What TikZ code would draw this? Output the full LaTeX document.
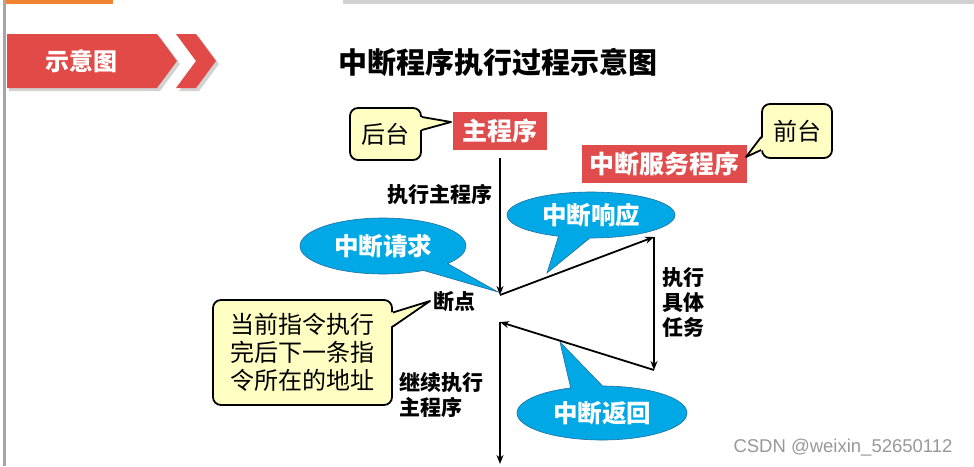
\documentclass[tikz,border=0pt]{standalone}
\usepackage{fontspec}
\newfontfamily\cjk{Noto Sans CJK SC}
\newfontfamily\wmfont{Liberation Sans}
\usetikzlibrary{shapes.geometric,shapes.callouts,arrows.meta}
\definecolor{bannerred}{HTML}{E24A48}
\definecolor{boxred}{HTML}{E04B4B}
\definecolor{notey}{HTML}{FFFFC4}
\definecolor{bubblue}{HTML}{00A9E6}
\definecolor{bubline}{HTML}{1F6F9F}
\definecolor{topor}{HTML}{F08332}
\tikzset{
  redbox/.style={fill=boxred, text=white, inner sep=0pt, font=\cjk\bfseries\fontsize{25}{28}\selectfont},
  notebox/.style={fill=notey, draw=black, line width=1.8pt, rounded corners=8pt, inner sep=0pt},
  notetext/.style={font=\cjk\fontsize{24}{28}\selectfont, inner sep=0pt},
  bubble/.style={ellipse callout, fill=bubblue, draw=bubline, line width=0.6pt, text=white, inner sep=0pt,
    callout pointer arc=22, font=\cjk\bfseries\fontsize{24.5}{28}\selectfont},
  lbl/.style={font=\cjk\bfseries\fontsize{21}{25}\selectfont, inner sep=0pt, align=left},
  flow/.style={line width=1.8pt, -{Stealth[length=9pt,width=7pt]}},
}
\begin{document}
\begin{tikzpicture}[x=1pt,y=-1pt]
\useasboundingbox (0,0) rectangle (974,466);
\fill[white] (0,0) rectangle (974,466);
% page frame
\fill[gray!70] (3,0) rectangle (6,466);
\fill[topor] (6,0) rectangle (113,3.5);
\fill[gray!35] (343,0) rectangle (974,4);
% banner
\fill[gray!35] (9,37) -- (160,37) -- (180,64) -- (160,91) -- (9,91) -- cycle;
\fill[gray!35] (179,37) -- (199,37) -- (219,64) -- (199,91) -- (179,91) -- (199,64) -- cycle;
\fill[bannerred] (7,34) -- (157,34) -- (177,61) -- (157,88) -- (7,88) -- cycle;
\fill[bannerred] (176,34) -- (196,34) -- (216,61) -- (196,88) -- (176,88) -- (196,61) -- cycle;
\node[font=\cjk\bfseries\fontsize{24}{28}\selectfont, text=white, inner sep=0pt] (banner) at (81,61) {示意图};
% title
\node[font=\cjk\bfseries\fontsize{29}{32}\selectfont, inner sep=0pt] (title) at (498,62) {中断程序执行过程示意图};
% red boxes
\node[redbox, minimum width=94pt, minimum height=38pt] (main) at (500,131) {主程序};
\node[redbox, minimum width=165pt, minimum height=38pt] (isr) at (664.5,164) {中断服务程序};
% yellow notes
\node[notebox, minimum width=71pt, minimum height=52pt] (back) at (385.5,134) {};
\fill[notey] ([shift={(-2,-17)}]back.east) -- (451,122) -- ([shift={(-2,-4)}]back.east) -- cycle;
\draw[line width=1.8pt, line join=round] ([shift={(0,-17)}]back.east) -- (451,122) -- ([shift={(0,-4)}]back.east);
\node[notetext] at (back) {后台};
\node[notebox, minimum width=70pt, minimum height=54pt] (front) at (797,131) {};
\fill[notey] ([shift={(2,6)}]front.west) -- (746,157) -- ([shift={(2,19)}]front.west) -- cycle;
\draw[line width=1.8pt, line join=round] ([shift={(0,6)}]front.west) -- (746,157) -- ([shift={(0,19)}]front.west);
\node[notetext] at (front) {前台};
\node[notebox, minimum width=179pt, minimum height=105pt] (addr) at (302.5,352.5) {};
\fill[notey] ([shift={(-2,-40)}]addr.east) -- (430,301) -- ([shift={(-2,-26)}]addr.east) -- cycle;
\draw[line width=1.8pt, line join=round] ([shift={(0,-40)}]addr.east) -- (430,301) -- ([shift={(0,-26)}]addr.east);
\node[notetext, align=left] at (addr) {当前指令执行\\完后下一条指\\令所在的地址};
% flow coordinates
\coordinate (top) at (500,158);
\coordinate (bp) at (500,295);
\coordinate (r1) at (654,237);
\coordinate (r2) at (654,370);
\coordinate (bp2) at (500,322);
\coordinate (bot) at (500,464);
% bubbles
\node[bubble, minimum width=166pt, minimum height=56pt, callout absolute pointer={(498,292)}] (req) at (383,246) {中断请求};
\node[bubble, minimum width=168pt, minimum height=46pt, callout absolute pointer={(547,273)}] (resp) at (591,215) {中断响应};
\node[bubble, minimum width=170pt, minimum height=54pt, callout absolute pointer={(560,342)}] (ret) at (602,413) {中断返回};
% flow
\draw[flow] (top) -- (bp);
\draw[flow] (bp) -- (r1);
\draw[flow] (r1) -- (r2);
\draw[flow] (r2) -- (bp2);
\draw[flow] (bp2) -- (bot);
% labels
\node[lbl, anchor=east] (l1) at (493,195) {执行主程序};
\node[lbl] (l2) at (454,302) {断点};
\node[lbl, anchor=west] (l3) at (399,395) {继续执行\\主程序};
\node[lbl, anchor=west] (l4) at (662,302) {执行\\具体\\任务};
% watermark
\node[font=\wmfont\fontsize{18.5}{20}\selectfont, text=gray!80, inner sep=0pt] (wm) at (843,448) {CSDN @weixin\_52650112};
\end{tikzpicture}
\end{document}
